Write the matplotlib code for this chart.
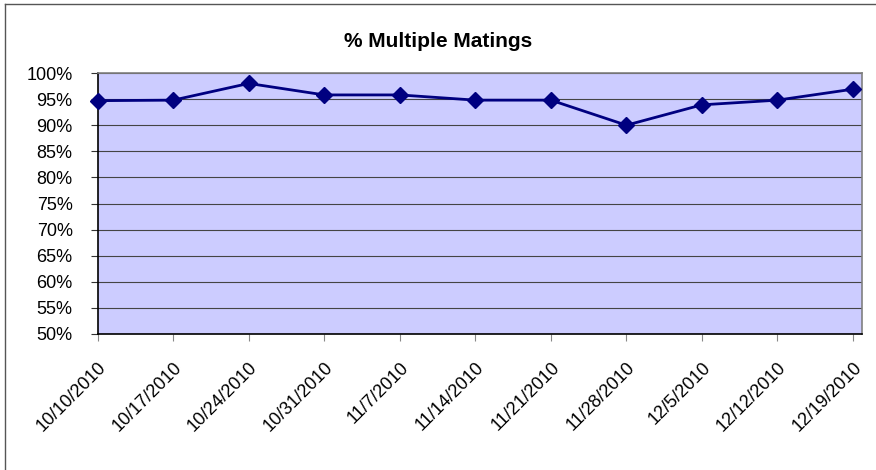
import matplotlib
matplotlib.use("Agg")
import matplotlib.pyplot as plt
from matplotlib.ticker import FuncFormatter, MultipleLocator

dates = ["10/10/2010", "10/17/2010", "10/24/2010", "10/31/2010", "11/7/2010",
         "11/14/2010", "11/21/2010", "11/28/2010", "12/5/2010", "12/12/2010",
         "12/19/2010"]
pct_multiple = [94.7, 94.8, 98.0, 95.8, 95.8, 94.8, 94.8, 90.0, 93.9, 94.8, 96.9]

plt.rcParams['font.family'] = ['Liberation Sans', 'DejaVu Sans']

fig = plt.figure(figsize=(8.76, 4.70), dpi=100)
W, H = 876, 470
ax = fig.add_axes([97.7 / W, 1 - 334 / H, (862 - 97.7) / W, (334 - 73) / H])
ax.set_facecolor('#CCCCFF')

x = list(range(len(dates)))
ax.plot(x, pct_multiple, color='#000080', lw=2, marker='D', markersize=8,
        markerfacecolor='#000080', markeredgecolor='#000080', zorder=3,
        clip_on=False)

ax.set_ylim(50, 100)
ax.set_xlim(0, 10.12)
ax.yaxis.set_major_locator(MultipleLocator(5))
ax.yaxis.set_major_formatter(FuncFormatter(lambda v, p: f"{int(round(v))}%"))
ax.grid(axis='y', color='#444444', lw=0.8)
ax.set_axisbelow(True)
ax.set_xticks(x)
ax.set_xticklabels(dates, rotation=45, ha='right', rotation_mode='anchor')
ax.tick_params(axis='y', direction='out', length=5, width=0.8, color='#333333',
               pad=13, labelsize=13)
ax.tick_params(axis='x', direction='out', length=5, width=0.8, color='#888888',
               pad=13, labelsize=13)
for s in ['top', 'right']:
    ax.spines[s].set_color('#808080')
    ax.spines[s].set_linewidth(1.2)
for s in ['left', 'bottom']:
    ax.spines[s].set_color('black')
    ax.spines[s].set_linewidth(1.2)

fig.text(438.5 / W, 1 - 47 / H, "% Multiple Matings", ha='center', va='baseline',
         fontsize=15, fontweight='bold')

# chart outer border (only left and top visible)
fig.add_artist(plt.Line2D([5 / W, 5 / W], [0, 1 - 3.5 / H], color='#555555',
                          lw=1, transform=fig.transFigure))
fig.add_artist(plt.Line2D([5 / W, 1], [1 - 3.5 / H, 1 - 3.5 / H], color='#555555',
                          lw=1, transform=fig.transFigure))

fig.savefig("out.png", dpi=100)
